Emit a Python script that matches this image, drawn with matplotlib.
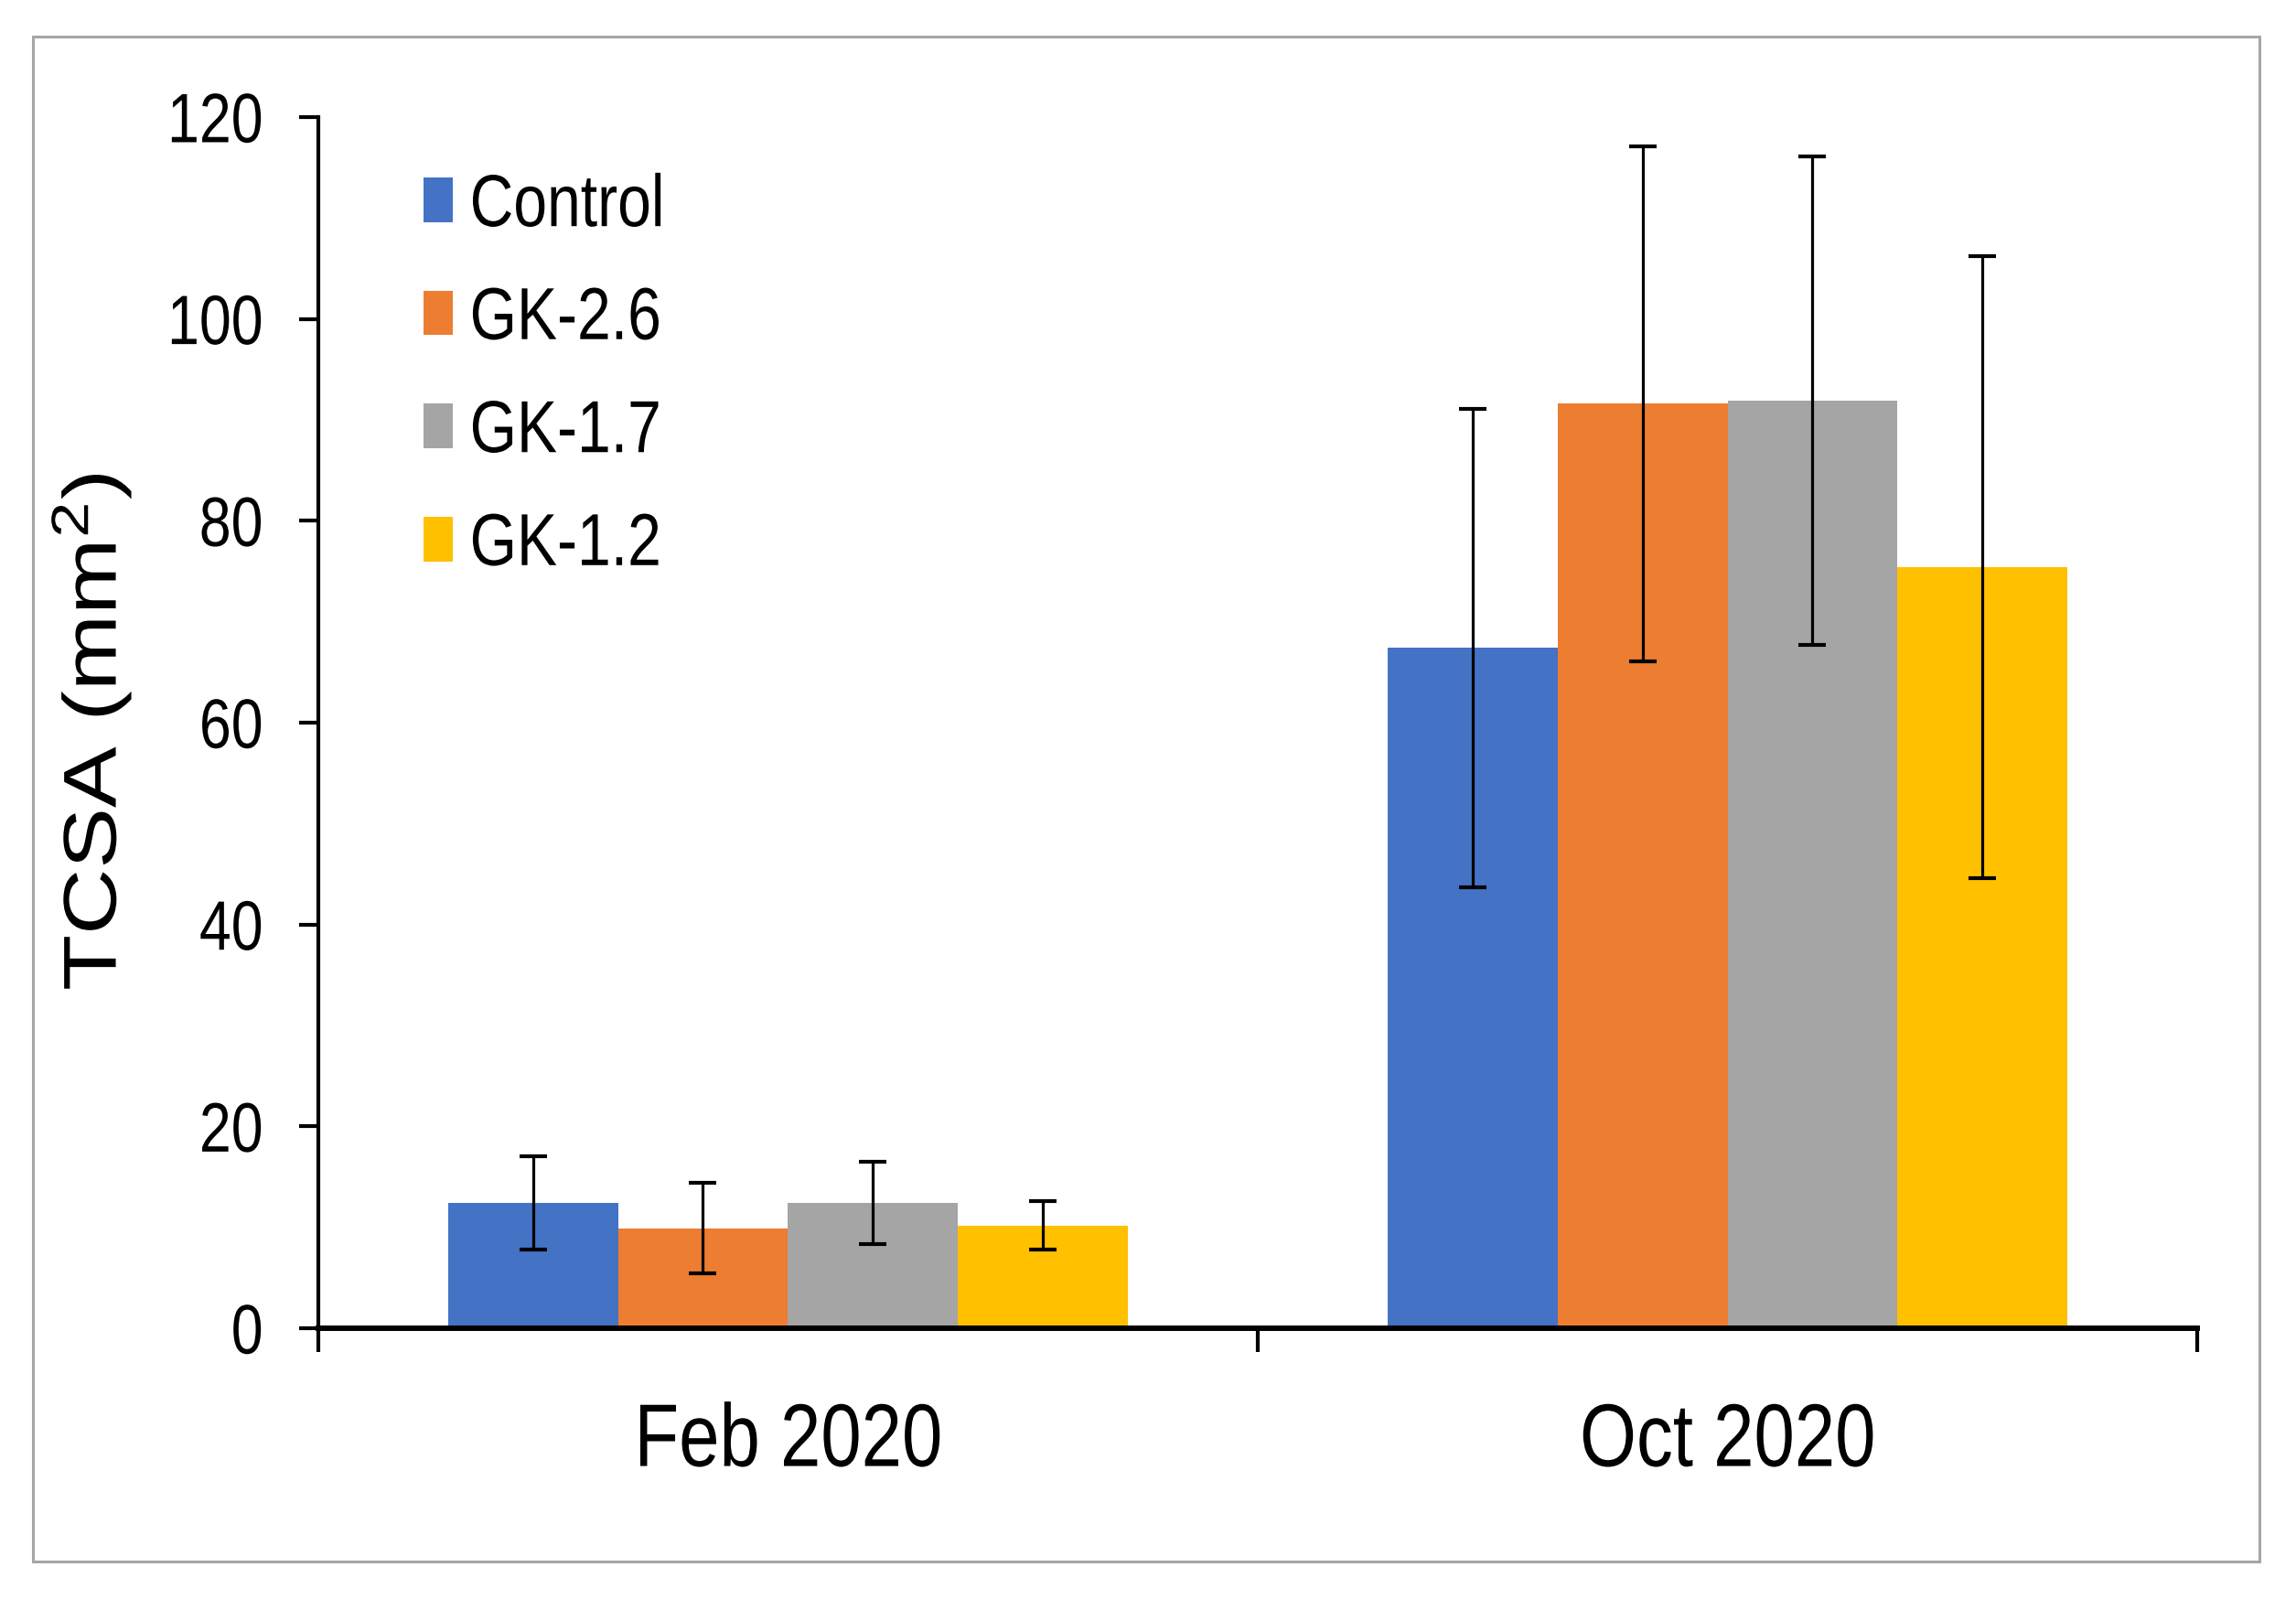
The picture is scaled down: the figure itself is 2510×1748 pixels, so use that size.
import matplotlib
matplotlib.use("Agg")
import matplotlib.pyplot as plt
from matplotlib.patches import Rectangle
from matplotlib.patheffects import AbstractPathEffect
from matplotlib.transforms import Affine2D
import numpy as np

# Data
dates = ["Feb 2020", "Oct 2020"]
treatments = ["Control", "GK-2.6", "GK-1.7", "GK-1.2"]
tcsa_feb = [12.4, 9.9, 12.4, 10.2]
tcsa_oct = [67.4, 91.6, 91.9, 75.4]
sd_feb = [4.6, 4.5, 4.1, 2.4]
sd_oct = [23.7, 25.5, 24.2, 30.8]
colors = ["#4472C4", "#ED7D31", "#A5A5A5", "#FFC000"]
y_ticks = [0, 20, 40, 60, 80, 100, 120]


class Squeeze(AbstractPathEffect):
    """The source picture is squashed sideways; squash the text the same way."""
    def __init__(self, sx=0.82, anchor="center"):
        super().__init__()
        self.sx = sx
        self.anchor = anchor

    def draw_path(self, renderer, gc, tpath, affine, rgbFace=None):
        bb = tpath.get_extents(affine)
        if self.anchor == "left":
            x0 = bb.x0
        elif self.anchor == "right":
            x0 = bb.x1
        else:
            x0 = (bb.x0 + bb.x1) / 2
        squash = Affine2D().translate(-x0, 0).scale(self.sx, 1).translate(x0, 0)
        renderer.draw_path(gc, tpath, affine + squash, rgbFace)


plt.rcParams["font.family"] = ["Liberation Sans", "DejaVu Sans"]
plt.rcParams["mathtext.default"] = "regular"

fig = plt.figure(figsize=(25.1, 17.48), dpi=100)
ax = fig.add_axes([0.1386, 0.1693, 0.957 - 0.1386, 0.9268 - 0.1693])

x = np.arange(len(dates))
width = 0.181
for i, name in enumerate(treatments):
    vals = [tcsa_feb[i], tcsa_oct[i]]
    errs = [sd_feb[i], sd_oct[i]]
    pos = x + (i - 1.5) * width
    ax.bar(pos, vals, width, color=colors[i], label=name, zorder=2)
    ax.errorbar(pos, vals, yerr=errs, fmt="none", ecolor="black",
                elinewidth=2.3, capsize=11, capthick=3, zorder=3)

ax.set_xlim(-0.5, 1.5)
ax.set_ylim(0, 120)
ax.set_yticks(y_ticks)
ax.tick_params(axis="y", labelsize=55, length=15, width=3, pad=28)

# boundary ticks below the axis, category names as minor tick labels
ax.set_xticks([-0.5, 0.5, 1.5])
ax.set_xticklabels([])
ax.tick_params(axis="x", which="major", length=19, width=3)
ax.set_xticks(x, minor=True)
ax.set_xticklabels(dates, minor=True)
ax.tick_params(axis="x", which="minor", length=0, labelsize=70, pad=58)

for s in ["top", "right"]:
    ax.spines[s].set_visible(False)
ax.spines["left"].set_linewidth(3)
ax.spines["bottom"].set_linewidth(4.3)
ax.spines["bottom"].set_zorder(4)

for t in ax.get_yticklabels():
    t.set_path_effects([Squeeze(anchor="right")])
for t in ax.get_xticklabels(minor=True):
    t.set_path_effects([Squeeze()])

fig.text(100 / 2510, 1 - 800 / 1748, "TCSA (mm$^2$)", rotation=90,
         ha="center", va="center", fontsize=72,
         path_effects=[Squeeze()])

leg = ax.legend(loc="upper left", bbox_to_anchor=(0.056, 0.9545), frameon=False,
                fontsize=58, handlelength=0.4, handleheight=0.55, handletextpad=0.22,
                labelspacing=0.59, borderpad=0, borderaxespad=0)
for t in leg.get_texts():
    t.set_path_effects([Squeeze(anchor="left")])

fig.add_artist(Rectangle((36 / 2510, 1 - 1707 / 1748), (2470 - 36) / 2510,
                         (1707 - 40) / 1748, transform=fig.transFigure,
                         fill=False, edgecolor="#A6A6A6", linewidth=2.2))

fig.savefig("out.png", dpi=100)
